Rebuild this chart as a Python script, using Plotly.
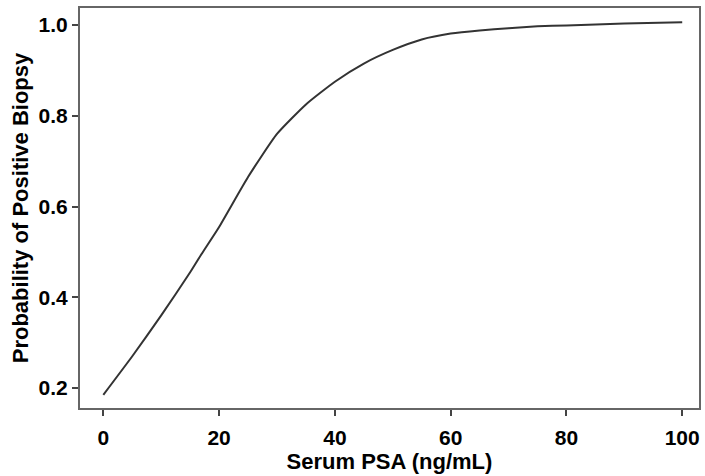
import plotly.graph_objects as go

# Data
psa = [0, 5, 10, 15, 17, 20, 25, 30, 35, 40, 45, 50, 55, 60, 65, 70, 75, 80, 90, 100]
prob = [0.185, 0.27, 0.36, 0.455, 0.496, 0.555, 0.665, 0.76, 0.825, 0.875,
        0.915, 0.945, 0.968, 0.981, 0.988, 0.993, 0.997, 0.999, 1.003, 1.006]

x_ticks = [0, 20, 40, 60, 80, 100]
y_ticks = [0.2, 0.4, 0.6, 0.8, 1.0]
y_tick_labels = ["0.2", "0.4", "0.6", "0.8", "1.0"]

FONT = "Liberation Sans, Arial, Helvetica, sans-serif"

fig = go.Figure()
fig.add_trace(go.Scatter(
    x=psa, y=prob, mode="lines",
    line=dict(color="#333333", width=2, shape="spline", smoothing=0.5),
    hoverinfo="skip", showlegend=False,
))

fig.update_layout(
    width=705, height=476,
    margin=dict(l=80, r=4, t=8, b=68),
    paper_bgcolor="white", plot_bgcolor="white",
    font=dict(family=FONT, color="black", size=21, weight="bold"),
    xaxis=dict(
        range=[-4.03, 102.9], tickvals=x_ticks, ticks="outside", ticklen=6,
        tickwidth=1.5, tickcolor="#444", showgrid=False, zeroline=False,
        showline=True, linecolor="#666", linewidth=2, mirror=True,
        ticklabelstandoff=4,
        tickfont=dict(size=21, family=FONT, weight="bold"),
        title=dict(text="Serum PSA (ng/mL)", standoff=2,
                   font=dict(size=22, family=FONT, weight="bold")),
    ),
    yaxis=dict(
        range=[0.156, 1.0374], tickvals=y_ticks, ticktext=y_tick_labels,
        ticks="outside", ticklen=6, tickwidth=1.5, tickcolor="#444",
        showgrid=False, zeroline=False,
        showline=True, linecolor="#666", linewidth=2, mirror=True,
        tickfont=dict(size=21, family=FONT, weight="bold"),
        title=dict(text="Probability of Positive Biopsy", standoff=4,
                   font=dict(size=22, family=FONT, weight="bold")),
    ),
)

fig.write_html(
    "out.html",
    config={"displayModeBar": False},
    post_script="document.body.style.margin='0';document.body.style.padding='0';",
)
